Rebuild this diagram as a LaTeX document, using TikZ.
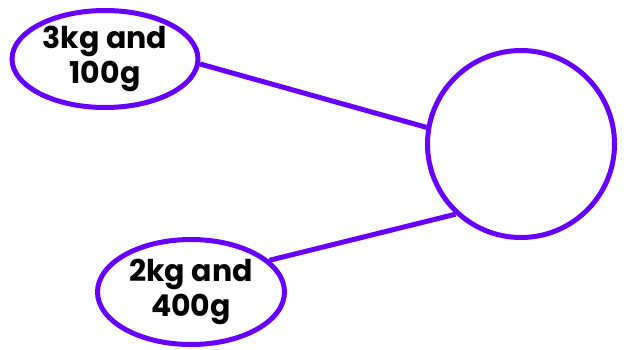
\documentclass[tikz,border=0pt]{standalone}
\usepackage{fontspec}
\setmainfont{Poppins}
\usetikzlibrary{shapes.geometric}
\definecolor{violet}{RGB}{102,0,255}

\begin{document}
\begin{tikzpicture}[x=1pt,y=-1pt,
  mass/.style={ellipse, draw=violet, line width=5pt, minimum width=186pt,
    minimum height=100pt, inner sep=0pt, align=center,
    font=\fontsize{30}{35}\selectfont\bfseries},
  total/.style={circle, draw=violet, line width=5pt, minimum size=187pt, inner sep=0pt},
  link/.style={draw=violet, line width=5pt}]

  \useasboundingbox (0,0) rectangle (624,349);

  % Masses
  \node[mass, minimum height=97pt] (top) at (105,59) {3kg and\\100g};
  \node[mass, minimum width=187pt, minimum height=105pt] (bottom) at (191,292) {2kg and\\400g};

  % Empty total circle
  \node[total] (sum) at (521,144) {};

  % Links
  \draw[link] (top.-3) -- (sum.170);
  \draw[link] (bottom.22) -- (sum.227);

\end{tikzpicture}
\end{document}
